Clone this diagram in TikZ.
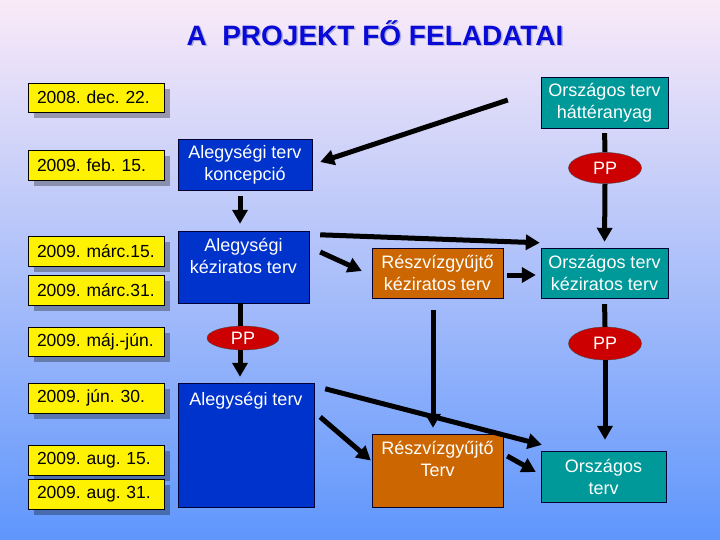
\documentclass[tikz,border=0pt]{standalone}
\usepackage{fontspec}
\setmainfont{Liberation Sans}
\usetikzlibrary{arrows.meta,shapes.geometric,shadows}
\frenchspacing
\definecolor{bgtop}{RGB}{250,234,248}
\definecolor{bgmid}{RGB}{172,205,245}
\definecolor{bgbot}{RGB}{95,150,252}
\definecolor{cimkek}{RGB}{10,10,215}
\definecolor{cimarny}{RGB}{175,178,215}
\definecolor{alkek}{RGB}{0,51,204}
\definecolor{rvnarancs}{RGB}{204,102,0}
\definecolor{orzold}{RGB}{0,153,153}
\definecolor{pppiros}{RGB}{204,0,0}
\begin{document}
\begin{tikzpicture}[x=1pt,y=-1pt,
  datum/.style={draw,fill=yellow,text width=118pt,align=left,inner xsep=9pt,inner ysep=0pt,minimum height=29.5pt,
    font=\fontsize{17.5}{20}\selectfont,drop shadow={shadow xshift=6pt,shadow yshift=-6pt,fill=black,opacity=.3}},
  terv/.style={draw=black!80!blue,text=white,align=center,inner sep=0pt,font=\fontsize{18}{22}\selectfont},
  alegyseg/.style={terv,fill=alkek}, reszviz/.style={terv,fill=rvnarancs}, orszagos/.style={terv,fill=orzold},
  fent/.style={text=white,align=center,inner sep=0pt,anchor=north,font=\fontsize{18}{22}\selectfont},
  pp/.style={ellipse,draw=black!70,fill=pppiros,text=white,inner sep=0pt,minimum width=73pt,font=\fontsize{18}{22}\selectfont},
  ln/.style={line width=5pt}, arr/.style={ln,-{Triangle[length=14pt,width=15pt]}}]
  \shade[top color=bgtop,middle color=bgmid,bottom color=bgbot] (0,0) rectangle (720,540);
  \useasboundingbox (0,0) rectangle (720,540);
  \node[text=cimarny,font=\fontsize{28}{30}\selectfont\bfseries] (cimarnyek) at (376.5,34.5) {A\ \ PROJEKT FŐ FELADATAI};
  \node[text=cimkek,font=\fontsize{28}{30}\selectfont\bfseries] (cim) at (375,33) {A\ \ PROJEKT FŐ FELADATAI};

  \node[datum] (d1) at (96,97.5) {2008. dec. 22.};
  \node[datum] (d2) at (96,165) {2009. feb. 15.};
  \node[datum] (d3) at (96,251) {2009. márc.15.};
  \node[datum] (d4) at (96,290) {2009. márc.31.};
  \node[datum] (d5) at (96,341.5) {2009. máj.-jún.};
  \node[datum] (d6) at (96,398) {2009. jún. 30.};
  \node[datum] (d7) at (96,460) {2009. aug. 15.};
  \node[datum] (d8) at (96,494) {2009. aug. 31.};

  \node[alegyseg,minimum width=134pt,minimum height=51pt] (koncepcio) at (245,164.5) {Alegységi terv\\koncepció};
  \node[alegyseg,minimum width=131pt,minimum height=72pt,label={[fent,yshift=-7pt]north:{Alegységi\\kéziratos terv}}] (alkezirat) at (243.5,267) {};
  \node[alegyseg,minimum width=136pt,minimum height=124pt,label={[fent,yshift=-9pt]north:{Alegységi terv}}] (alterv) at (246,445) {};
  \node[reszviz,minimum width=131pt,minimum height=50pt] (rvkezirat) at (437.5,273) {Részvízgyűjtő\\kéziratos terv};
  \node[reszviz,minimum width=131pt,minimum height=73pt,label={[fent,yshift=-7pt]north:{Részvízgyűjtő\\Terv}}] (rvterv) at (437.5,470.5) {};
  \node[orszagos,minimum width=127pt,minimum height=51pt] (hatter) at (604.5,102.5) {Országos terv\\háttéranyag};
  \node[orszagos,minimum width=127pt,minimum height=50pt] (orkezirat) at (604.5,273) {Országos terv\\kéziratos terv};
  \node[orszagos,minimum width=125pt,minimum height=51pt] (orterv) at (603.5,476.5) {Országos\\terv};
  \node[pp,minimum height=31pt] (pp1) at (605,168) {PP};
  \node[pp,minimum width=72pt,minimum height=24pt] (pp2) at (243,338) {PP};
  \node[pp,minimum height=33pt] (pp3) at (605,343.5) {PP};

  \draw[arr] ([xshift=-33pt,yshift=2.5pt]hatter.west) -- ([xshift=8pt,yshift=2.5pt]koncepcio.east);
  \draw[arr,shorten <=6pt,shorten >=7pt] ([xshift=-5pt]koncepcio.south) -- ([xshift=-3.5pt]alkezirat.north);
  \draw[ln] ([xshift=-3.5pt]alkezirat.south) -- ([xshift=-3pt]pp2.north);
  \draw[arr,shorten >=6pt] ([xshift=-3pt]pp2.south) -- ([xshift=-6pt]alterv.north);
  \draw[arr] ([xshift=11pt,yshift=-4pt]alkezirat.north east) -- ([xshift=-1pt,yshift=5pt]orkezirat.north west);
  \draw[arr] ([xshift=11pt,yshift=15pt]alkezirat.east) -- ([xshift=-10pt,yshift=2pt]rvkezirat.west);
  \draw[arr] ([xshift=4pt,yshift=-2pt]rvkezirat.east) -- ([xshift=-5pt,yshift=-2pt]orkezirat.west);
  \draw[ln,shorten <=5pt] (hatter.south) -- (pp1.north);
  \draw[arr,shorten >=6pt] (pp1.south) -- (orkezirat.north);
  \draw[ln,shorten <=6pt] (orkezirat.south) -- (pp3.north);
  \draw[arr,shorten >=11pt] (pp3.south) -- ([xshift=1.5pt]orterv.north);
  \draw[arr,shorten <=12pt,shorten >=6pt] ([xshift=-4.5pt]rvkezirat.south) -- ([xshift=-4.5pt]rvterv.north);
  \draw[arr] ([xshift=11pt,yshift=-6pt]alterv.north east) -- ([xshift=1pt,yshift=6pt]orterv.north west);
  \draw[arr] ([xshift=6pt,yshift=28pt]alterv.east) -- ([xshift=-1pt,yshift=10pt]rvterv.west);
  \draw[arr] ([xshift=4pt,yshift=14.5pt]rvterv.east) -- ([xshift=-5pt,yshift=4.5pt]orterv.west);
\end{tikzpicture}
\end{document}
